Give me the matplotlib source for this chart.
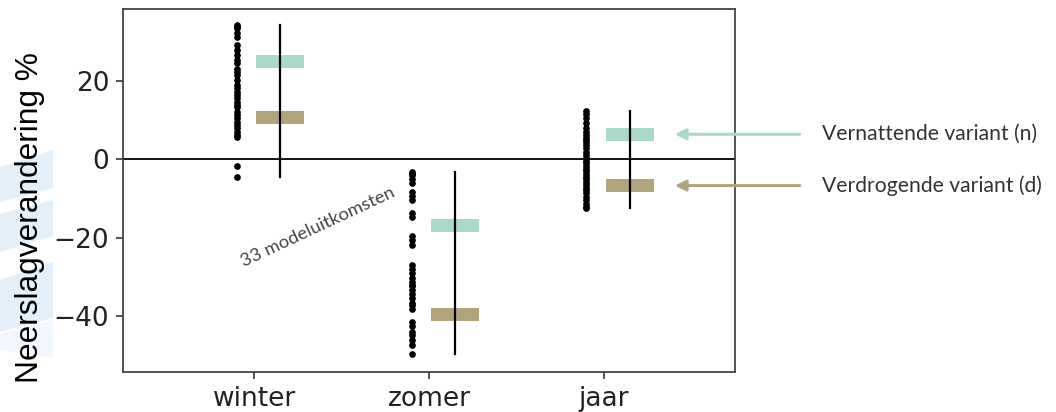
import numpy as np
import matplotlib
matplotlib.use("Agg")
import matplotlib.pyplot as plt
from matplotlib.patches import Polygon

# neerslagverandering (%) per seizoen, 33 modeluitkomsten elk
seasons = ["winter", "zomer", "jaar"]

winter_runs = [34.3, 33.9, 33.5, 32.2, 31.3, 29.2, 27.9, 26.6, 25.4, 24.7, 23.2,
               22.4, 21.5, 19.0, 18.1, 17.3, 16.4, 15.6, 14.7, 13.9, 13.4, 11.3,
               10.5, 9.6, 8.8, 7.9, 7.1, 6.2, 5.8, 12.0, 20.3, -1.6, -4.6]
zomer_runs = [-3.2, -3.6, -4.0, -5.1, -6.1, -8.3, -9.4, -10.4, -13.6, -14.7,
              -19.6, -20.6, -21.9, -27.0, -28.1, -29.1, -30.2, -31.3, -32.0,
              -32.4, -33.4, -34.5, -35.5, -36.6, -37.2, -38.3, -41.5, -42.6,
              -44.0, -45.0, -46.1, -47.3, -49.6]
jaar_runs = [12.4, 11.6, 10.5, 9.2, 7.9, 7.0, 6.2, 5.4, 4.9, 4.5, 3.7, 2.8, 1.9,
             1.1, 0.3, -0.3, -1.0, -1.7, -2.4, -3.1, -3.8, -4.4, -5.1, -5.8,
             -6.5, -7.2, -7.8, -8.7, -9.5, -10.4, -11.3, -12.1, -12.5]

# scenario-varianten
nat_variant = [25.0, -17.0, 6.4]    # vernattend (n)
droog_variant = [10.6, -39.7, -6.7]  # verdrogend (d)

nat_label = "Vernattende variant (n)"
droog_label = "Verdrogende variant (d)"

green = "#a9d9c9"
tan = "#b1a47c"
text_grey = "#333333"

fig = plt.figure(figsize=(10.56, 4.12), dpi=100)

# lichtblauwe achtergrondbanen links
def band(pts, alpha):
    xy = [(x / 1056, 1 - y / 412) for x, y in pts]
    fig.add_artist(Polygon(xy, closed=True, transform=fig.transFigure,
                           facecolor="#dcedf9", edgecolor="none", alpha=alpha, zorder=0))

band([(0, 167), (53, 150), (53, 188), (0, 202)], 0.8)
band([(0, 214), (53, 200), (53, 236), (0, 252)], 0.8)
band([(0, 280), (53, 262), (53, 318), (0, 332)], 0.8)
band([(0, 334), (53, 320), (53, 358), (0, 350)], 0.4)

ax = fig.add_axes([0.1165, 0.0978, 0.5795, 0.8803])

runs = [winter_runs, zomer_runs, jaar_runs]
pos = np.arange(len(seasons))
box_h = 3.3
box_w = 0.274

for i, r in enumerate(runs):
    r = np.array(r)
    ax.plot(np.full(len(r), i - 0.1), r, "o", color="black", ms=3.8, zorder=4)
    ax.plot([i + 0.15, i + 0.15], [r.min(), r.max()], color="black", lw=1.6, zorder=3)

ax.bar(pos + 0.15, box_h, width=box_w, bottom=np.array(nat_variant) - box_h / 2,
       color=green, zorder=2)
ax.bar(pos + 0.15, box_h, width=box_w, bottom=np.array(droog_variant) - box_h / 2,
       color=tan, zorder=2)

ax.axhline(0, color="black", lw=1.3, zorder=1)

ax.set_xlim(-0.75, 2.75)
ax.set_ylim(-54.25, 38.4)
ax.set_xticks(pos)
ax.set_xticklabels(seasons)
ax.set_yticks([20, 0, -20, -40])
ax.set_yticklabels(["20", "0", "\u221220", "\u221240"])
ax.tick_params(labelsize=19, length=5, width=1.1, pad=5, colors="#222222")
for s in ax.spines.values():
    s.set_color("#444444")
    s.set_linewidth(1.3)

ax.text(0.366, -17.3, "33 modeluitkomsten", rotation=25, ha="center", va="center",
        fontsize=13.3, family="Lato", color="#444444")

# pijlen naar de jaar-varianten
for val, col, lab in [(nat_variant[2], green, nat_label),
                      (droog_variant[2], tan, droog_label)]:
    ax.annotate("", xy=(2.406, val), xytext=(3.12, val),
                arrowprops=dict(arrowstyle="-|>", color=col, lw=2.2,
                                mutation_scale=16, shrinkA=0, shrinkB=0),
                annotation_clip=False)
    ax.text(3.246, val, lab, ha="left", va="center", fontsize=15.2,
            family="Lato", color=text_grey, clip_on=False)

fig.text(30 / 1056, 1 - 218 / 412, "Neerslagverandering %", rotation=90,
         ha="center", va="center", fontsize=22.8, family="Liberation Sans",
         color="black")

fig.savefig("out.png", dpi=100)
